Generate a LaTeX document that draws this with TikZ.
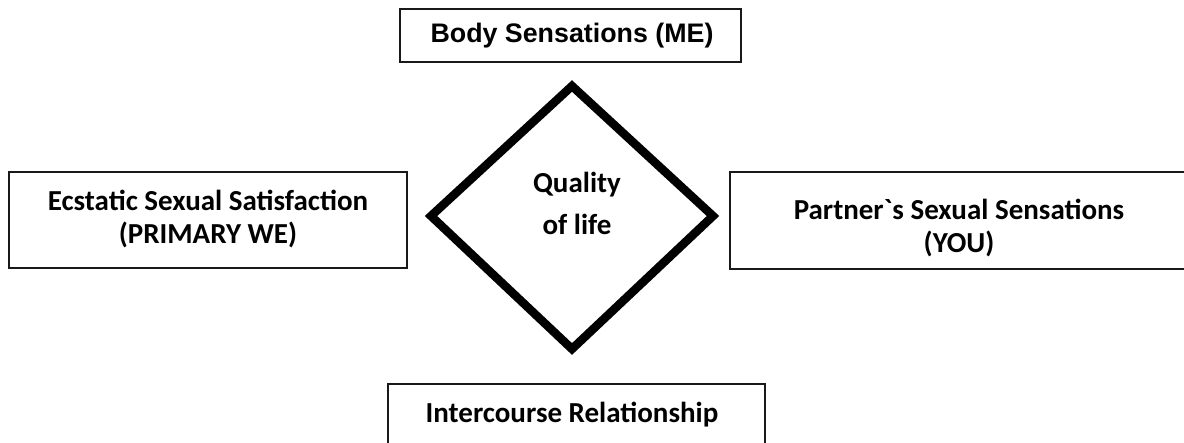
\documentclass[tikz,border=0pt]{standalone}
\usepackage{fontspec}
\newfontfamily\calibrib{Carlito}[BoldFont=* Bold]
\newfontfamily\arialb{Liberation Sans}[BoldFont=* Bold]
\begin{document}
\begin{tikzpicture}[x=1pt,y=-1pt,
  box/.style={draw=black!90, line width=1.8pt, inner sep=0pt, outer sep=0pt, fill=none},
  lbl/.style={anchor=base, inner sep=0pt, font=\calibrib\bfseries\fontsize{29}{34}\selectfont},
  toplbl/.style={anchor=base, inner sep=0pt, font=\arialb\bfseries\fontsize{26.8}{32}\selectfont},
  rhomb/.style={draw=black, line width=8.5pt, line join=miter}]
\useasboundingbox[fill=white] (0,0) rectangle (1184,443);

% outer boxes
\node[box, minimum width=341pt, minimum height=53pt] (me) at (570.5,35.5) {};
\node[box, minimum width=398pt, minimum height=96pt] (we) at (208,220) {};
\node[box, minimum width=470pt, minimum height=97pt] (you) at (965,220.5) {};
\node[box, minimum width=377pt, minimum height=90pt] (rel) at (576.5,429) {};

% central diamond
\coordinate (qt) at (572,86);
\coordinate (qr) at (713,216);
\coordinate (qb) at (572,349);
\coordinate (ql) at (431,216);
\draw[rhomb] (qt) -- (qr) -- (qb) -- (ql) -- cycle;

% labels
\node[toplbl] (meT) at (572,43) {Body Sensations (ME)};
\node[lbl] (weA) at (208,211) {Ecstatic Sexual Satisfaction};
\node[lbl] (weB) at (208,244) {(PRIMARY WE)};
\node[lbl] (qA) at (577,193) {Quality};
\node[lbl] (qB) at (577,235) {of life};
\node[lbl] (youA) at (959,220) {Partner`s Sexual Sensations};
\node[lbl] (youB) at (959,253) {(YOU)};
\node[lbl] (relT) at (572,423) {Intercourse Relationship};
\end{tikzpicture}
\end{document}
